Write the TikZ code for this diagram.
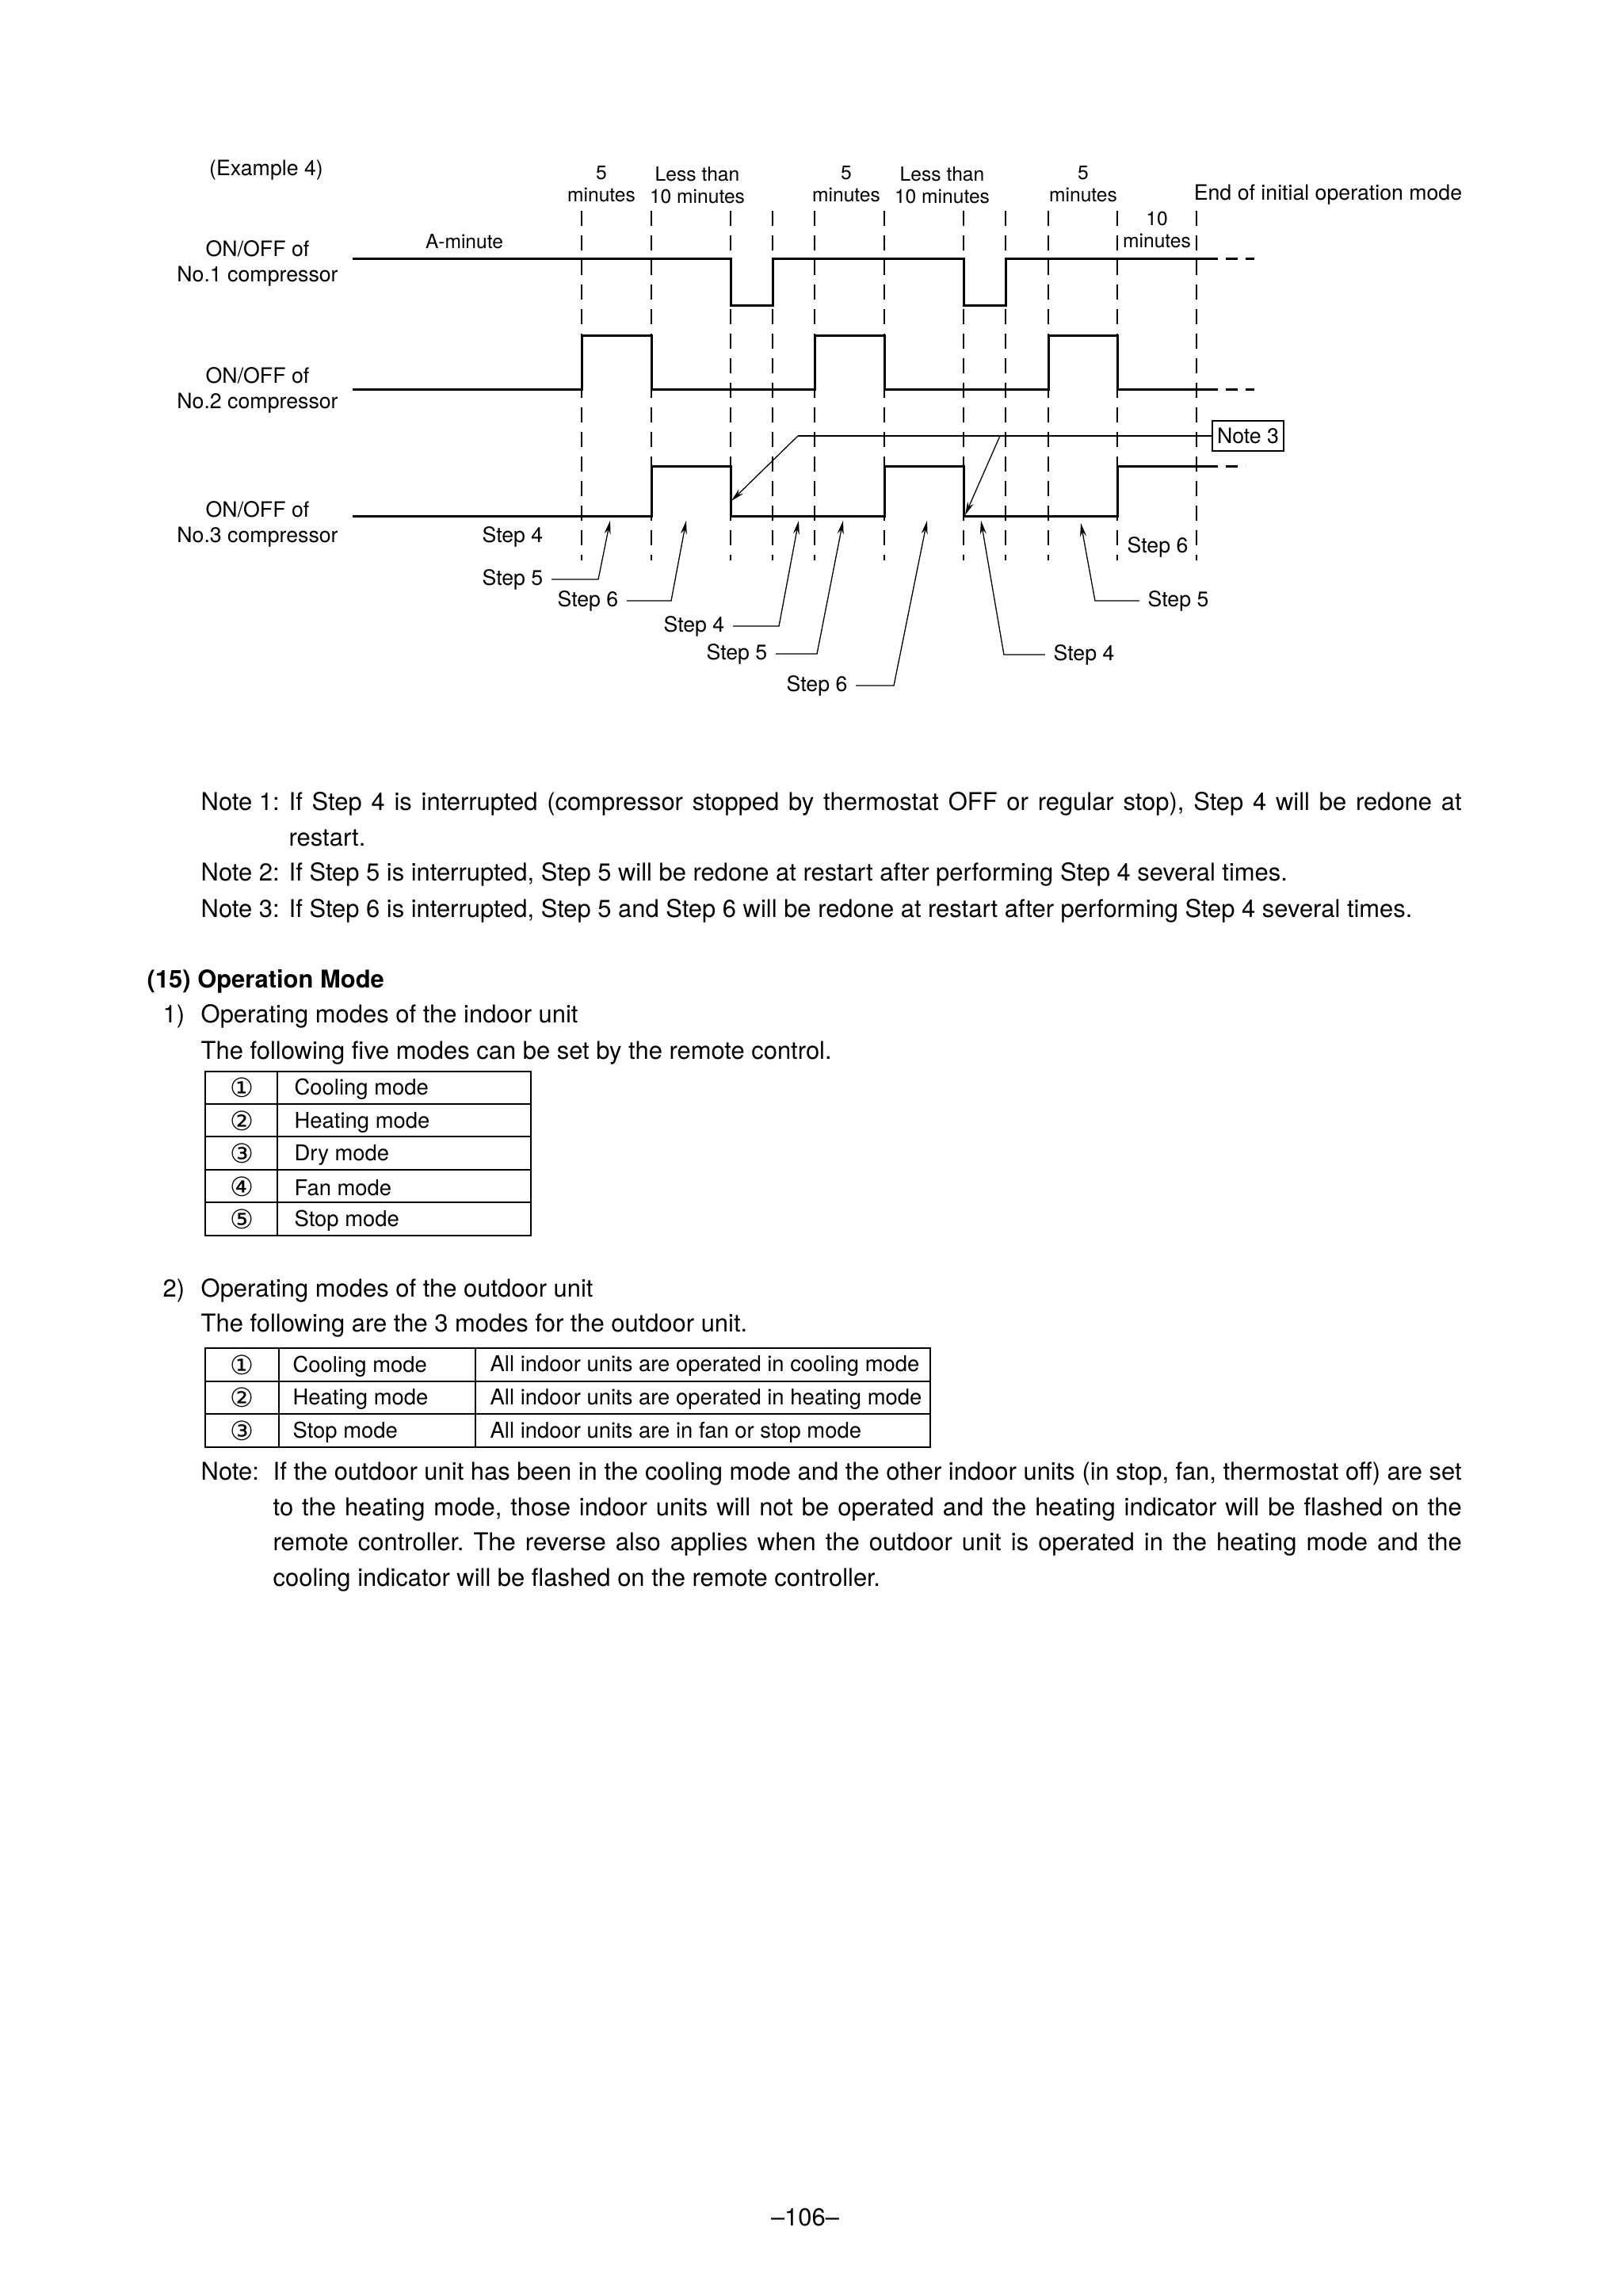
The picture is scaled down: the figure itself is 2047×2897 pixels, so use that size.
\documentclass[tikz,border=0pt]{standalone}
\usepackage{fontspec}
\setmainfont{TeX Gyre Heros}
\newfontfamily\circfont{DejaVu Sans}
\usetikzlibrary{arrows.meta, positioning}
\frenchspacing

\begin{document}
\begin{tikzpicture}[
    x=0.1mm, y=-0.1mm,
    sig/.style={line width=0.3mm},
    sigtail/.style={line width=0.3mm, dash pattern=on 1.5mm off 1mm},
    tline/.style={line width=0.18mm, dash pattern=on 1.9mm off 1.2mm},
    lead/.style={line width=0.13mm, -{Stealth[length=1.7mm, width=0.8mm]}},
    tlbl/.style={font=\fontsize{7}{8}\selectfont, align=center, inner sep=0pt},
    lbl/.style={font=\fontsize{7.6}{9.1}\selectfont, inner sep=0pt},
    steplbl/.style={font=\fontsize{7.6}{9.1}\selectfont, inner ysep=0pt, inner xsep=1mm},
    notebx/.style={draw, line width=0.15mm, font=\fontsize{7.6}{9.1}\selectfont,
        inner xsep=0.6mm, inner ysep=0pt, minimum height=3.8mm},
    bodytxt/.style={font=\fontsize{8.8}{12.8}\selectfont, inner sep=0pt, anchor=base west},
    para/.style={bodytxt, align=justify},
    tabtxt/.style={font=\fontsize{7.8}{9}\selectfont, inner sep=0pt, anchor=west},
    numtxt/.style={font=\circfont\fontsize{9.5}{10}\selectfont, inner sep=0pt},
    tabout/.style={line width=0.28mm},
    tabin/.style={line width=0.12mm}
]

% ---- page ----
\fill[white] (0,0) rectangle (2047,2897);
\useasboundingbox (0,0) rectangle (2047,2897);

% ---- time grid (dashed) ----
\foreach \x in {734,822,922,975,1028,1116,1216,1269,1323,1410,1510}
    \draw[tline] (\x,266) -- (\x,707);

% ---- header labels ----
\node[lbl]  (ex4)  at (336,215)  {(Example 4)};
\node[tlbl] (hd1)  at (759,232)  {5\\minutes};
\node[tlbl] (hd2)  at (880,234)  {Less than\\10 minutes};
\node[tlbl] (hd3)  at (1068,232) {5\\minutes};
\node[tlbl] (hd4)  at (1189,234) {Less than\\10 minutes};
\node[tlbl] (hd5)  at (1367,232) {5\\minutes};
\node[tlbl] (hd6)  at (1460,290) {10\\minutes};
\node[lbl]  (endm) at (1676,246) {End of initial operation mode};
\node[tlbl] (amin) at (586,305)  {A-minute};

% ---- row labels ----
\node[lbl, align=center] (row1) at (325,332) {ON/OFF of\\No.1 compressor};
\node[lbl, align=center] (row2) at (325,492) {ON/OFF of\\No.2 compressor};
\node[lbl, align=center] (row3) at (325,661) {ON/OFF of\\No.3 compressor};

% ---- No.1 compressor ----
\draw[sig] (445,326) -- (922,326) -- (922,385) -- (975,385) -- (975,326)
    -- (1216,326) -- (1216,385) -- (1269,385) -- (1269,326) -- (1522,326);
\draw[sigtail] (1522,326) -- (1583,326);

% ---- No.2 compressor ----
\draw[sig] (445,491) -- (734,491) -- (734,423) -- (822,423) -- (822,491)
    -- (1028,491) -- (1028,423) -- (1116,423) -- (1116,491)
    -- (1323,491) -- (1323,423) -- (1410,423) -- (1410,491) -- (1522,491);
\draw[sigtail] (1522,491) -- (1583,491);

% ---- No.3 compressor ----
\draw[sig] (445,651) -- (822,651) -- (822,588) -- (922,588) -- (922,651)
    -- (1116,651) -- (1116,588) -- (1216,588) -- (1216,651)
    -- (1410,651) -- (1410,588) -- (1522,588);
\draw[sigtail] (1522,588) -- (1572,588);

% ---- Note 3 callout ----
\node[notebx] (notebx) at (1575,550) {Note 3};
\coordinate (nk1) at (1007,550);
\coordinate (nk2) at (1262,550);
\coordinate (nt1) at (923,632);
\coordinate (nt2) at (1218,650);
\draw[line width=0.13mm] (notebx.west) -- (nk1);
\draw[lead] (nk1) -- (nt1);
\draw[lead] (nk2) -- (nt2);

% ---- step labels ----
\node[steplbl] (s4a) at (647,677)  {Step 4};
\node[steplbl] (s5a) at (647,731)  {Step 5};
\node[steplbl] (s6a) at (742,758)  {Step 6};
\node[steplbl] (s4b) at (876,790)  {Step 4};
\node[steplbl] (s5b) at (930,825)  {Step 5};
\node[steplbl] (s6b) at (1031,865) {Step 6};
\node[steplbl] (s4c) at (1368,826) {Step 4};
\node[steplbl] (s5c) at (1487,758) {Step 5};
\node[steplbl] (s6c) at (1461,690) {Step 6};

% arrow tips on the No.3 line
\coordinate (t5a) at (770,657);
\coordinate (t6a) at (866,657);
\coordinate (t4b) at (1008,657);
\coordinate (t5b) at (1064,657);
\coordinate (t6b) at (1170,657);
\coordinate (t4c) at (1238,657);
\coordinate (t5c) at (1364,660);

\draw[lead] (s5a.east) -- ++(59,0) -- (t5a);
\draw[lead] (s6a.east) -- ++(56,0) -- (t6a);
\draw[lead] (s4b.east) -- ++(58,0) -- (t4b);
\draw[lead] (s5b.east) -- ++(52,0) -- (t5b);
\draw[lead] (s6b.east) -- ++(48,0) -- (t6b);
\draw[lead] (s4c.west) -- ++(-52,0) -- (t4c);
\draw[lead] (s5c.west) -- ++(-56,0) -- (t5c);

% ---- notes ----
\node[bodytxt] (n1l) at (253,1022) {Note 1:};
\node[para, text width=148mm] (n1) at (364,1022)
    {If Step 4 is interrupted (compressor stopped by thermostat OFF or regular stop), Step 4 will be redone at\linebreak restart.};
\node[bodytxt] (n2l) at (253,1111) {Note 2:};
\node[bodytxt] (n2)  at (364,1111)
    {If Step 5 is interrupted, Step 5 will be redone at restart after performing Step 4 several times.};
\node[bodytxt] (n3l) at (253,1157) {Note 3:};
\node[bodytxt] (n3)  at (364,1157)
    {If Step 6 is interrupted, Step 5 and Step 6 will be redone at restart after performing Step 4 several times.};

% ---- (15) Operation Mode ----
\node[bodytxt, font=\fontsize{8.8}{12.8}\selectfont\bfseries] (sec) at (185,1246) {(15) Operation Mode};
\node[bodytxt] (it1)  at (205,1290) {1)};
\node[bodytxt] (it1t) at (253,1290) {Operating modes of the indoor unit};
\node[bodytxt] (it1s) at (253,1336) {The following five modes can be set by the remote control.};

% indoor unit table
\foreach \c/\m [count=\i] in {①/Cooling mode, ②/Heating mode, ③/Dry mode, ④/Fan mode, ⑤/Stop mode} {
    \node[numtxt] (ia\i) at (305, {1352+(\i-0.5)*41.4}) {\c};
    \node[tabtxt] (ib\i) at (371, {1354+(\i-0.5)*41.4}) {\m};
}
\foreach \y in {1393,1434,1476,1517}
    \draw[tabin] (259,\y) -- (670,\y);
\draw[tabin] (350,1352) -- (350,1559);
\draw[tabout] (259,1352) rectangle (670,1559);

\node[bodytxt] (it2)  at (205,1636) {2)};
\node[bodytxt] (it2t) at (253,1636) {Operating modes of the outdoor unit};
\node[bodytxt] (it2s) at (253,1680) {The following are the 3 modes for the outdoor unit.};

% outdoor unit table
\foreach \c/\m/\d [count=\i] in {①/Cooling mode/All indoor units are operated in cooling mode,
        ②/Heating mode/All indoor units are operated in heating mode,
        ③/Stop mode/All indoor units are in fan or stop mode} {
    \node[numtxt] (oa\i) at (305, {1701+(\i-0.5)*41.7}) {\c};
    \node[tabtxt] (ob\i) at (369, {1703+(\i-0.5)*41.7}) {\m};
    \node[tabtxt] (oc\i) at (618, {1703+(\i-0.5)*41.7}) {\d};
}
\foreach \y in {1743,1784}
    \draw[tabin] (259,\y) -- (1174,\y);
\draw[tabin] (352,1701) -- (352,1826);
\draw[tabin] (600,1701) -- (600,1826);
\draw[tabout] (259,1701) rectangle (1174,1826);

% ---- closing note ----
\node[bodytxt] (nbl) at (253,1867) {Note:};
\node[para, text width=150mm] (nb) at (344,1867)
    {If the outdoor unit has been in the cooling mode and the other indoor units (in stop, fan, thermostat off) are set\linebreak
     to the heating mode, those indoor units will not be operated and the heating indicator will be flashed on the\linebreak
     remote controller. The reverse also applies when the outdoor unit is operated in the heating mode and the\linebreak
     cooling indicator will be flashed on the remote controller.};

% ---- page number ----
\node[bodytxt, anchor=base] (pg) at (1016,2808) {–106–};

\end{tikzpicture}
\end{document}
